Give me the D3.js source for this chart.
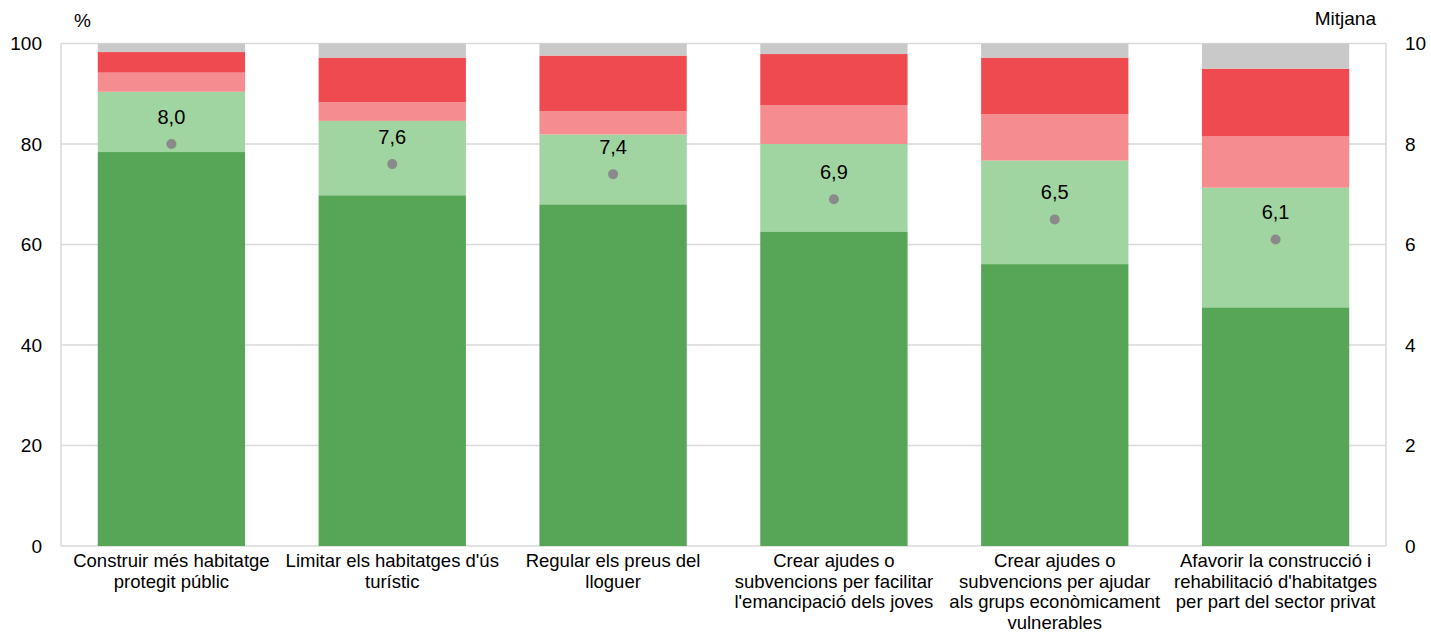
<!DOCTYPE html>
<html>
<head>
<meta charset="utf-8">
<script src="https://cdn.jsdelivr.net/npm/d3@7"></script>
<style>
  body { margin: 0; background: #fff; }
  svg text { font-family: "Liberation Sans", Arial, sans-serif; fill: #000; }
</style>
</head>
<body>
<div id="chart"></div>
<script>
// categories, wrapped as in the original
const categories = [
    ["Construir més habitatge", "protegit públic"],
    ["Limitar els habitatges d'ús", "turístic"],
    ["Regular els preus del", "lloguer"],
    ["Crear ajudes o", "subvencions per facilitar", "l'emancipació dels joves"],
    ["Crear ajudes o", "subvencions per ajudar", "als grups econòmicament", "vulnerables"],
    ["Afavorir la construcció i", "rehabilitació d'habitatges", "per part del sector privat"]
];

// % shares, stacked bottom to top
const highAgree = [78.4, 69.8, 68.0, 62.6, 56.1, 47.5];
const agree     = [12.0, 14.8, 13.9, 17.4, 20.6, 23.8];
const disagree  = [3.8, 3.7, 4.6, 7.7, 9.2, 10.2];
const highDis   = [4.1, 8.9, 11.1, 10.2, 11.3, 13.5];
const noAnswer  = [1.7, 2.8, 2.4, 2.1, 2.8, 5.0];

// mean score (right axis, 0-10)
const means = [8.0, 7.6, 7.4, 6.9, 6.5, 6.1];

const leftTicks = [0, 20, 40, 60, 80, 100];
const rightTicks = [0, 2, 4, 6, 8, 10];

const seriesKeys = ["highAgree", "agree", "disagree", "highDis", "noAnswer"];
const seriesColors = ["#57a557", "#a0d4a0", "#f58c8f", "#f04a51", "#c9c9c9"];

const rows = categories.map((c, i) => ({
    cat: i,
    highAgree: highAgree[i],
    agree: agree[i],
    disagree: disagree[i],
    highDis: highDis[i],
    noAnswer: noAnswer[i]
}));

const width = 1431, height = 633;
const plotLeft = 61, plotRight = 1386, plotTop = 43.5, plotBottom = 546;

const svg = d3.select('#chart').append('svg')
    .attr('width', width)
    .attr('height', height);

const x = d3.scaleBand()
    .domain(categories.map((c, i) => i))
    .range([plotLeft, plotRight])
    .paddingInner(0.333)
    .paddingOuter(0.1665);

const y = d3.scaleLinear().domain([0, 100]).range([plotBottom, plotTop]);
const y2 = d3.scaleLinear().domain([0, 10]).range([plotBottom, plotTop]);

// gridlines
svg.append('g')
    .selectAll('line')
    .data(leftTicks)
    .enter()
    .append('line')
    .attr('x1', plotLeft).attr('x2', plotRight)
    .attr('y1', d => y(d)).attr('y2', d => y(d))
    .attr('stroke', '#d9d9d9')
    .attr('stroke-width', 1.5);

// frame sides
[plotLeft, plotRight].forEach(xx => {
    svg.append('line')
        .attr('x1', xx).attr('x2', xx)
        .attr('y1', y(100)).attr('y2', y(0))
        .attr('stroke', '#d9d9d9')
        .attr('stroke-width', 1.5);
});

// stacked bars
const stacked = d3.stack().keys(seriesKeys)(rows);

svg.append('g')
    .selectAll('g')
    .data(stacked)
    .enter()
    .append('g')
    .attr('fill', (d, i) => seriesColors[i])
    .selectAll('rect')
    .data(d => d)
    .enter()
    .append('rect')
    .attr('x', d => x(d.data.cat))
    .attr('width', x.bandwidth())
    .attr('y', d => y(Math.min(d[1], 100)))
    .attr('height', d => y(d[0]) - y(Math.min(d[1], 100)));

// axes
const yAxisL = svg.append('g')
    .attr('transform', `translate(${plotLeft},0)`)
    .call(d3.axisLeft(y).tickValues(leftTicks).tickSize(0).tickPadding(19));
const yAxisR = svg.append('g')
    .attr('transform', `translate(${plotRight},0)`)
    .call(d3.axisRight(y2).tickValues(rightTicks).tickSize(0).tickPadding(19));

[yAxisL, yAxisR].forEach(a => {
    a.select('.domain').remove();
    a.selectAll('text')
        .style('font-family', '"Liberation Sans", Arial, sans-serif')
        .style('font-size', '19px')
        .attr('fill', '#000');
});

// x-axis labels
const xl = svg.append('g')
    .selectAll('text')
    .data(categories)
    .enter()
    .append('text')
    .attr('x', (d, i) => x(i) + x.bandwidth() / 2)
    .attr('y', 567)
    .attr('text-anchor', 'middle')
    .style('font-size', '18.5px');

xl.selectAll('tspan')
    .data(d => d)
    .enter()
    .append('tspan')
    .attr('x', function () { return d3.select(this.parentNode).attr('x'); })
    .attr('dy', (d, i) => i === 0 ? 0 : 20.7)
    .text(d => d);

// mean dots and labels
svg.append('g')
    .selectAll('circle')
    .data(means)
    .enter()
    .append('circle')
    .attr('cx', (d, i) => x(i) + x.bandwidth() / 2)
    .attr('cy', d => y2(d))
    .attr('r', 5)
    .attr('fill', '#8a8a8a');

svg.append('g')
    .selectAll('text')
    .data(means)
    .enter()
    .append('text')
    .attr('x', (d, i) => x(i) + x.bandwidth() / 2)
    .attr('y', d => y2(d) - 20)
    .attr('text-anchor', 'middle')
    .style('font-size', '20px')
    .text(d => d3.format('.1f')(d).replace('.', ','));

// axis titles
svg.append('text')
    .attr('x', 74).attr('y', 27)
    .style('font-size', '19px')
    .text('%');

svg.append('text')
    .attr('x', 1376).attr('y', 25)
    .attr('text-anchor', 'end')
    .style('font-size', '19px')
    .text('Mitjana');
</script>
</body>
</html>
